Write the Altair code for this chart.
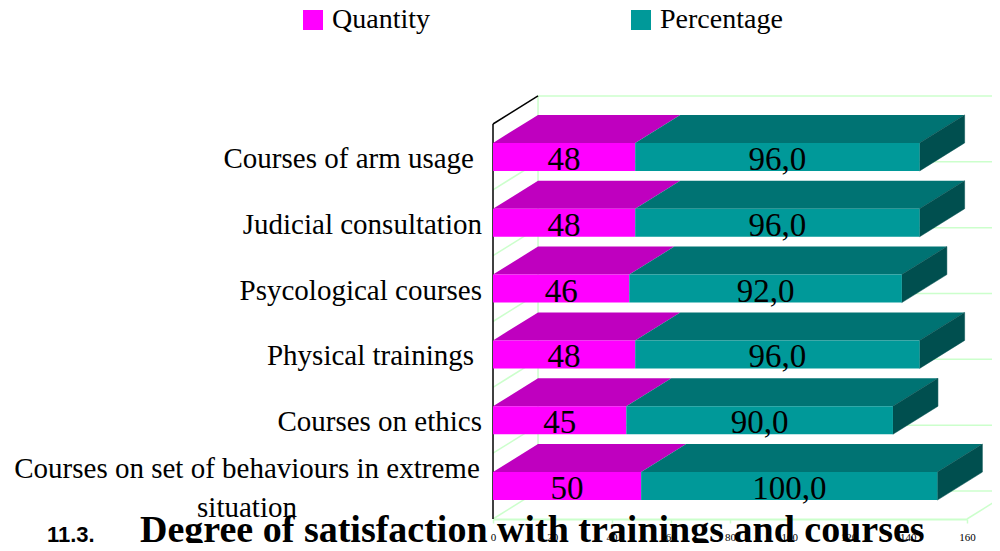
import altair as alt
import pandas as pd

# ---- data ----
categories = [
    "Courses on set of behaviours in extreme situation",
    "Courses on ethics",
    "Physical trainings",
    "Psycological courses",
    "Judicial consultation",
    "Courses of arm usage",
]
display_labels = [
    "Courses on set of behaviours in extreme\nsituation",
    "Courses on ethics",
    "Physical trainings ",
    "Psycological courses",
    "Judicial consultation",
    "Courses of arm usage ",
]
quantity = [50, 45, 48, 46, 48, 48]
percentage = [100.0, 90.0, 96.0, 92.0, 96.0, 96.0]
series = ["Quantity", "Percentage"]
x_ticks = [0, 20, 40, 60, 80, 100, 120, 140, 160]

# ---- 3D geometry (style constants) ----
DX = 15.2      # depth in x units
DY = 0.4255    # depth in y units
HALF = 0.2128  # half bar thickness in y units
XMAX = 160
YMAX = 6

front_rows, top_rows, side_rows, label_rows, cat_rows = [], [], [], [], []
for i, cat in enumerate(categories):
    c = i + 0.5
    q, p = quantity[i], percentage[i]
    segs = [("Quantity", 0, q, f"{q}"), ("Percentage", q, q + p, f"{p:.1f}".replace(".", ","))]
    for s, a, b, txt in segs:
        front_rows.append(dict(cat=cat, series=s, x=a, x2=b, y=c - HALF, y2=c + HALF))
        fid = f"{i}-{s}"
        top_rows.append(dict(face=fid, series=s, pt=0, y=c + HALF, x=a, x2=b))
        top_rows.append(dict(face=fid, series=s, pt=1, y=c + HALF + DY, x=a + DX, x2=b + DX))
        label_rows.append(dict(series=s, xm=(a + b) / 2, y=c, text=txt))
    end = q + p
    yb, yt = c - HALF, c + HALF
    poly = [(end, yb), (end, yt), (end + DX, yt + DY), (end + DX, yb + DY), (end, yb)]
    for k, (px, py) in enumerate(poly):
        side_rows.append(dict(face=str(i), pt=k, x=px, y=py))
    lab = display_labels[i]
    kind = "multi" if "\n" in lab else ("space" if lab.endswith(" ") else "plain")
    cat_rows.append(dict(y=c, label=lab.rstrip(" "), kind=kind))

front = pd.DataFrame(front_rows)
top = pd.DataFrame(top_rows)
side = pd.DataFrame(side_rows)
labels = pd.DataFrame(label_rows)
cats = pd.DataFrame(cat_rows)

levels = list(range(YMAX + 1))
back_grid = pd.DataFrame(dict(x=[DX] * len(levels), x2=[XMAX + DX] * len(levels), y=[k + DY for k in levels]))
wall_diag = pd.DataFrame(dict(x=[0] * YMAX, x2=[DX] * YMAX, y=list(range(YMAX)), y2=[k + DY for k in range(YMAX)]))
edges_green = pd.DataFrame(dict(x=[DX, XMAX], x2=[DX, XMAX + DX], y=[DY, 0], y2=[YMAX + DY, DY]))
edges_black = pd.DataFrame(dict(x=[0, 0], x2=[0, DX], y=[0, YMAX], y2=[YMAX, YMAX + DY]))

GRID = "#CCFFCC"
xs = alt.Scale(domain=[0, XMAX], nice=False, zero=False)
ys = alt.Scale(domain=[0, YMAX], nice=False, zero=False)
x_axis = alt.Axis(values=x_ticks, grid=False, domainColor=GRID, domainWidth=2,
                  tickColor=GRID, tickSize=4, tickWidth=1.5, labelFont="Liberation Serif",
                  labelFontSize=11, labelColor="black", labelPadding=8, title=None,
                  labelFlush=False)

X = lambda f: alt.X(f, type="quantitative", scale=xs, axis=x_axis, stack=None)
Y = lambda f: alt.Y(f, type="quantitative", scale=ys, axis=None, stack=None)

grid_layer = alt.Chart(back_grid).mark_rule(color=GRID, strokeWidth=1.5).encode(
    x=X("x"), x2="x2", y=Y("y"))
diag_layer = alt.Chart(wall_diag).mark_rule(color=GRID, strokeWidth=1.5).encode(
    x=X("x"), x2="x2", y=Y("y"), y2="y2")
edge_g_layer = alt.Chart(edges_green).mark_rule(color=GRID, strokeWidth=1.5).encode(
    x=X("x"), x2="x2", y=Y("y"), y2="y2")
edge_b_layer = alt.Chart(edges_black).mark_rule(color="black", strokeWidth=1.5).encode(
    x=X("x"), x2="x2", y=Y("y"), y2="y2")

top_q = alt.Chart(top).transform_filter(alt.datum.series == "Quantity").mark_area(
    orient="horizontal", color="#BF00BF").encode(y=Y("y"), x=X("x"), x2="x2", detail="face:N")
top_p = alt.Chart(top).transform_filter(alt.datum.series == "Percentage").mark_area(
    orient="horizontal", color="#007373").encode(y=Y("y"), x=X("x"), x2="x2", detail="face:N")
side_layer = alt.Chart(side).mark_line(fill="#004F4F", stroke="#004F4F", strokeWidth=0.5).encode(
    x=X("x"), y=Y("y"), detail="face:N", order=alt.Order("pt:Q"))
front_layer = alt.Chart(front).mark_rect().encode(
    x=X("x"), x2="x2", y=Y("y"), y2="y2",
    color=alt.Color("series:N", scale=alt.Scale(domain=series, range=["#FF00FF", "#009999"]),
                    sort=series,
                    legend=alt.Legend(title=None, orient="none", legendX=-194, legendY=-118,
                                      direction="horizontal", symbolType="square", symbolSize=400,
                                      symbolStrokeWidth=0, labelFont="Liberation Serif",
                                      labelFontSize=28, labelColor="black", labelOffset=5,
                                      columnPadding=197, padding=0, labelLimit=300)))
value_layer = alt.Chart(labels).mark_text(font="Liberation Serif", fontSize=33, color="black",
                                          baseline="middle", dy=3).encode(
    x=X("xm"), y=Y("y"), text="text:N")
cat_plain = alt.Chart(cats).transform_filter("datum.kind == 'plain'").mark_text(
    font="Liberation Serif", fontSize=29, color="black", align="right", baseline="middle",
    dx=-11, dy=2).encode(x=alt.value(0), y=Y("y"), text="label:N")
cat_space = alt.Chart(cats).transform_filter("datum.kind == 'space'").mark_text(
    font="Liberation Serif", fontSize=29, color="black", align="right", baseline="middle",
    dx=-19, dy=2).encode(x=alt.value(0), y=Y("y"), text="label:N")
cat_multi = alt.Chart(cats).transform_filter("datum.kind == 'multi'").mark_text(
    font="Liberation Serif", fontSize=29, color="black", align="center", baseline="middle",
    dx=-246, dy=-17.5, lineBreak="\n", lineHeight=39).encode(x=alt.value(0), y=Y("y"), text="label:N")

num_layer = alt.Chart(pd.DataFrame(dict(t=["11.3."]))).mark_text(
    font="Liberation Sans", fontWeight="bold", fontSize=22, align="left", baseline="alphabetic",
    color="black").encode(x=alt.value(-446), y=alt.value(418), text="t:N")
title_layer = alt.Chart(pd.DataFrame(dict(t=["Degree of satisfaction with trainings and courses"]))).mark_text(
    font="Liberation Serif", fontWeight="bold", fontSize=38, align="left", baseline="alphabetic",
    color="black").encode(x=alt.value(-353), y=alt.value(418), text="t:N")

chart = alt.layer(
    grid_layer, diag_layer, edge_g_layer, edge_b_layer,
    top_q, top_p, side_layer, front_layer, value_layer, cat_plain, cat_space, cat_multi,
    num_layer, title_layer,
).properties(
    width=474, height=395,
    autosize=alt.AutoSizeParams(type="none"),
    padding={"left": 485, "top": 116, "right": 25, "bottom": 24},
    background="white",
).configure_view(strokeWidth=0)

chart.save("out.html", embed_options={"renderer": "svg", "actions": False})
